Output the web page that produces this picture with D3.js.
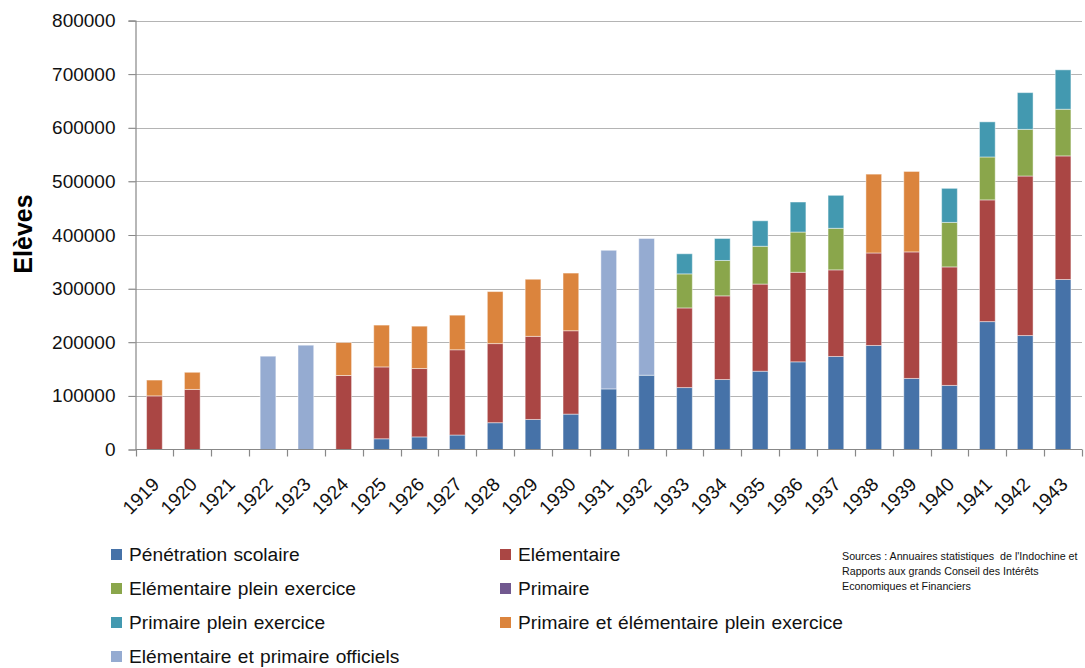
<!DOCTYPE html>
<html>
<head>
<meta charset="utf-8">
<script src="https://cdn.jsdelivr.net/npm/d3@7"></script>
<style>
  html, body { margin: 0; padding: 0; background: #fff; }
  svg { display: block; font-family: "Liberation Sans", Arial, sans-serif; }
</style>
</head>
<body>
<svg id="chart" width="1085" height="668"></svg>
<script>
const years = ["1919","1920","1921","1922","1923","1924","1925","1926","1927","1928","1929","1930","1931","1932","1933","1934","1935","1936","1937","1938","1939","1940","1941","1942","1943"];

const penetrationScolaire = [0,0,0,0,0,0,20000,23500,27000,50000,56000,66000,113000,138500,115500,130500,146000,163500,173500,194000,132500,119500,238500,212500,317000];
const elementaire = [100000,112000,0,0,0,138000,134000,127500,159000,147500,155000,155500,0,0,148500,156000,162500,167000,161500,172500,236000,221000,227000,297500,230500];
const elementairePleinExercice = [0,0,0,0,0,0,0,0,0,0,0,0,0,0,63500,66000,70500,75000,77500,0,0,83000,80000,87000,87000];
const primaire = [0,0,0,0,0,0,0,0,0,0,0,0,0,0,0,0,0,0,0,0,0,0,0,0,0];
const primairePleinExercice = [0,0,0,0,0,0,0,0,0,0,0,0,0,0,37500,41000,47500,56000,61500,0,0,63500,65500,68500,73500];
const primaireEtElementairePlein = [29500,32000,0,0,0,61500,78000,79000,64500,97000,106500,107500,0,0,0,0,0,0,0,147000,150000,0,0,0,0];
const elementaireEtPrimaireOfficiels = [0,0,0,174000,194500,0,0,0,0,0,0,0,258500,255000,0,0,0,0,0,0,0,0,0,0,0];

const seriesNames = ["Pénétration scolaire","Elémentaire","Elémentaire plein exercice","Primaire","Primaire plein exercice","Primaire et élémentaire plein exercice","Elémentaire et primaire officiels"];
const seriesValues = [penetrationScolaire, elementaire, elementairePleinExercice, primaire, primairePleinExercice, primaireEtElementairePlein, elementaireEtPrimaireOfficiels];
const seriesColors = ["#4672A8","#AA4644","#8AA64B","#71588F","#4399B0","#DB843D","#95ABD1"];
const yTicks = [0,100000,200000,300000,400000,500000,600000,700000,800000];
const yTitle = "Elèves";
const sourceLines = ["Sources : Annuaires statistiques  de l'Indochine et","Rapports aux grands Conseil des Intérêts","Economiques et Financiers"];

(function () {
const svg = d3.select("#chart");
const pL = 135.5, pR = 1082, pT = 20.5, pB = 449.5;

const x = d3.scaleBand().domain(years).range([pL, pR]).paddingInner(0.585).paddingOuter(0.2925);
const y = d3.scaleLinear().domain([0, 800000]).range([pB, pT]);

const table = years.map((yr, i) => {
  const row = { year: yr };
  seriesNames.forEach((n, s) => row[n] = seriesValues[s][i]);
  return row;
});
const stacked = d3.stack().keys(seriesNames)(table);

svg.append("g").selectAll("line").data(yTicks.filter(d => d > 0)).join("line")
  .attr("x1", pL - 7).attr("x2", pR)
  .attr("y1", d => Math.round(y(d)) + 0.5).attr("y2", d => Math.round(y(d)) + 0.5)
  .attr("stroke", "#B4B4B4").attr("stroke-width", 1.2);

const yAxis = d3.axisLeft(y).tickValues(yTicks).tickSize(7).tickPadding(13).tickFormat(d3.format("d"));
const gy = svg.append("g").attr("transform", `translate(${pL},0)`).call(yAxis);
gy.select(".domain").attr("stroke", "#888").attr("stroke-width", 1.2);
gy.selectAll(".tick line").attr("stroke", "#888");
gy.selectAll("text").attr("font-size", "19px").attr("fill", "#111");

svg.append("g").selectAll("g").data(stacked).join("g")
  .attr("fill", (d, i) => seriesColors[i])
  .selectAll("rect").data(d => d.filter(p => p[1] - p[0] > 0)).join("rect")
  .attr("x", d => x(d.data.year))
  .attr("width", x.bandwidth())
  .attr("y", d => y(d[1]))
  .attr("height", d => y(d[0]) - y(d[1]))
  .attr("stroke", "rgba(255,255,255,0.45)")
  .attr("stroke-width", 1);

const gx = svg.append("g").attr("transform", `translate(0,${pB})`);
gx.append("line").attr("x1", pL).attr("x2", pR).attr("stroke", "#888").attr("stroke-width", 1.2);
const boundaries = d3.range(years.length + 1).map(k => pL + k * x.step());
gx.selectAll(".tk").data(boundaries).join("line").attr("class", "tk")
  .attr("x1", d => Math.round(d) + 0.5).attr("x2", d => Math.round(d) + 0.5)
  .attr("y1", 0).attr("y2", 7).attr("stroke", "#888").attr("stroke-width", 1.2);
gx.selectAll("text").data(years).join("text")
  .attr("transform", d => `translate(${x(d) + x.bandwidth() / 2 + 6},${36}) rotate(-45)`)
  .attr("text-anchor", "end")
  .attr("font-size", "19px").attr("fill", "#111")
  .text(d => d);

svg.append("text").attr("transform", "translate(32,234) rotate(-90)")
  .attr("text-anchor", "middle").attr("font-size", "25px").attr("font-weight", "bold")
  .attr("fill", "#000").text(yTitle);

const legendPos = [[111,549],[500,549],[111,583],[500,583],[111,617],[500,617],[111,651]];
const lg = svg.append("g").selectAll("g").data(seriesNames).join("g")
  .attr("transform", (d, i) => `translate(${legendPos[i][0]},${legendPos[i][1]})`);
lg.append("rect").attr("width", 11).attr("height", 11).attr("fill", (d, i) => seriesColors[i]);
lg.append("text").attr("x", 18).attr("y", 12).attr("font-size", "19.2px").attr("fill", "#111")
  .style("word-spacing", "1px").text(d => d);

svg.append("g").selectAll("text").data(sourceLines).join("text")
  .attr("x", 842).attr("y", (d, i) => 560 + i * 15)
  .attr("font-size", "10.7px").attr("fill", "#111")
  .style("white-space", "pre").text(d => d);
})();
</script>
</body>
</html>
